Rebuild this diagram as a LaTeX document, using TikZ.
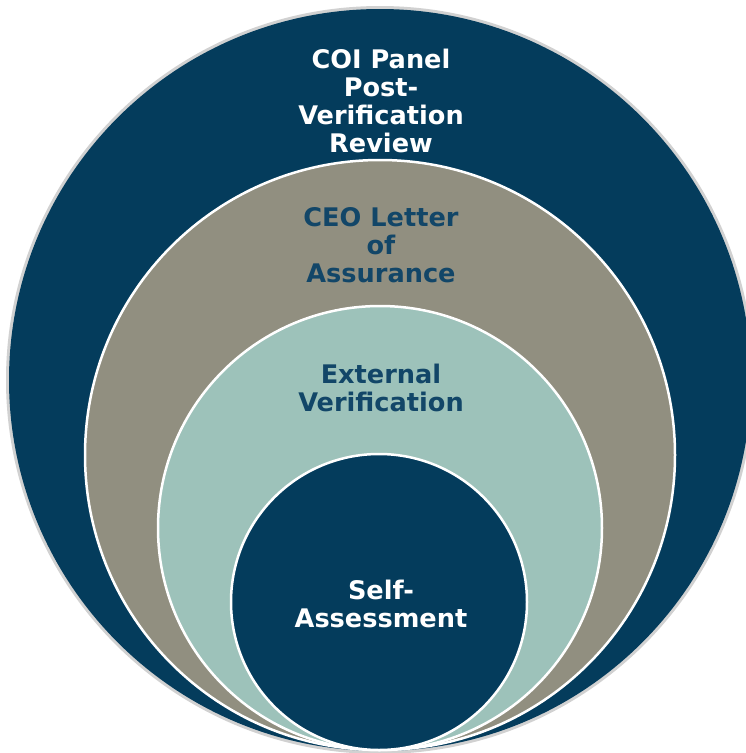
\documentclass[tikz,border=0pt]{standalone}
\usepackage{fontspec}
\setmainfont{DejaVu Sans}
\definecolor{navy}{HTML}{043C5C}
\definecolor{stone}{HTML}{918F80}
\definecolor{sea}{HTML}{9DC2BA}
\definecolor{inknavy}{HTML}{124668}
\begin{document}
\begin{tikzpicture}[x=1pt,y=-1pt,
  ring/.style={draw=white,line width=2.5pt},
  lbl/.style={align=center,inner sep=0pt,font=\bfseries\fontsize{25.6}{28.3}\selectfont}]
\useasboundingbox (0,0) rectangle (746,753);
\clip (0,0) rectangle (746,753);
\fill[white] (0,0) rectangle (746,753);
% outer disc with soft grey rim
\fill[black!18] (380,380) circle (374pt);
\fill[navy] (380,380) circle (371pt);
% grey disc
\filldraw[fill=stone,ring] (380,455) circle (295pt);
% teal disc
\filldraw[fill=sea,ring] (380,528) circle (222pt);
% inner disc
\filldraw[fill=navy,ring] (379,602) circle (148pt);
% labels
\node[lbl,text=white] (coi) at (381,101) {COI Panel\\Post-\\Verification\\Review};
\node[lbl,text=inknavy] (ceo) at (381,245) {CEO Letter\\of\\Assurance};
\node[lbl,text=inknavy] (ext) at (381,388) {External\\Verification};
\node[lbl,text=white] (self) at (381,604) {Self-\\Assessment};
\end{tikzpicture}
\end{document}
